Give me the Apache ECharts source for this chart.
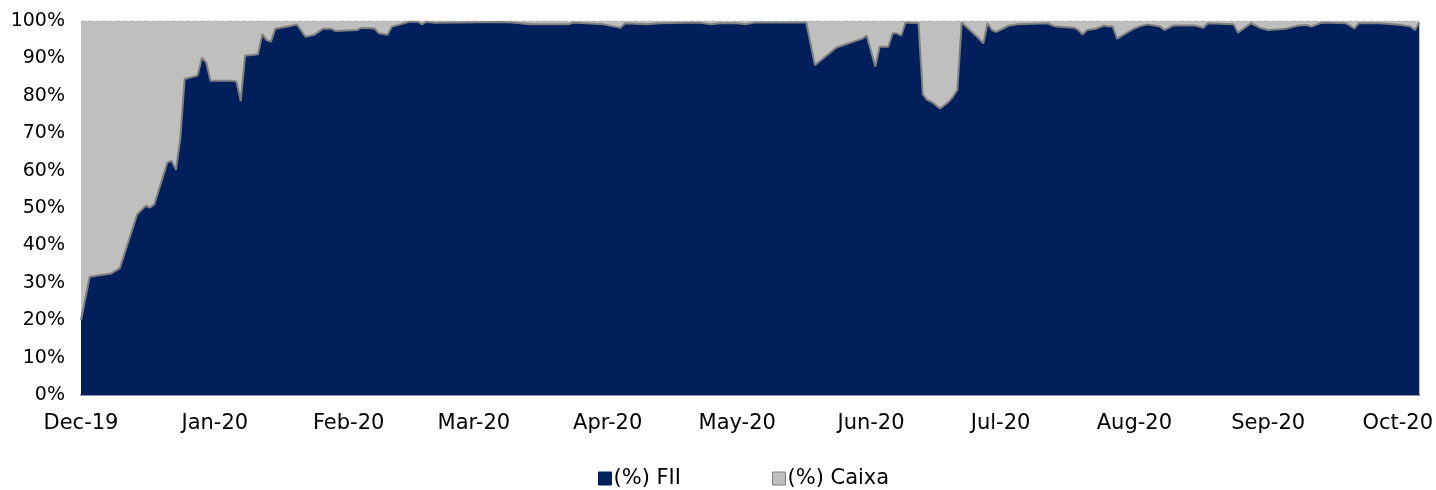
<!DOCTYPE html>
<html>
<head>
<meta charset="utf-8">
<script src="https://cdn.jsdelivr.net/npm/echarts@6/dist/echarts.min.js"></script>
<style>
  html, body { margin: 0; padding: 0; background: #ffffff; }
  #chart { width: 1436px; height: 490px; }
</style>
</head>
<body>
<div id="chart"></div>
<script>
// ---- data ----
const dates = [
  '2019-12-01','2019-12-03','2019-12-08','2019-12-10','2019-12-14','2019-12-16','2019-12-17','2019-12-18','2019-12-21','2019-12-22',
  '2019-12-23','2019-12-24','2019-12-25','2019-12-28','2019-12-29','2019-12-30','2019-12-31','2020-01-05','2020-01-06','2020-01-07',
  '2020-01-08','2020-01-11','2020-01-12','2020-01-13','2020-01-14','2020-01-15','2020-01-19','2020-01-20','2020-01-22','2020-01-24',
  '2020-01-26','2020-01-28','2020-01-29','2020-02-03','2020-02-04','2020-02-07','2020-02-08','2020-02-10','2020-02-11','2020-02-13',
  '2020-02-15','2020-02-17','2020-02-18','2020-02-19','2020-02-21','2020-03-07','2020-03-10','2020-03-14','2020-03-21','2020-03-23',
  '2020-03-24','2020-03-31','2020-04-04','2020-04-05','2020-04-10','2020-04-13','2020-04-22','2020-04-25','2020-04-27','2020-05-01',
  '2020-05-03','2020-05-05','2020-05-17','2020-05-19','2020-05-24','2020-05-29','2020-05-30','2020-05-31','2020-06-02','2020-06-03',
  '2020-06-05','2020-06-06','2020-06-07','2020-06-08','2020-06-09','2020-06-12','2020-06-13','2020-06-14','2020-06-15','2020-06-17',
  '2020-06-19','2020-06-20','2020-06-21','2020-06-22','2020-06-26','2020-06-27','2020-06-28','2020-06-29','2020-06-30','2020-07-03',
  '2020-07-05','2020-07-12','2020-07-13','2020-07-14','2020-07-18','2020-07-19','2020-07-20','2020-07-21','2020-07-23','2020-07-25',
  '2020-07-26','2020-07-27','2020-07-28','2020-07-30','2020-08-01','2020-08-02','2020-08-04','2020-08-07','2020-08-08','2020-08-10',
  '2020-08-15','2020-08-17','2020-08-18','2020-08-24','2020-08-25','2020-08-28','2020-08-30','2020-09-01','2020-09-05','2020-09-08',
  '2020-09-10','2020-09-11','2020-09-13','2020-09-14','2020-09-19','2020-09-21','2020-09-22','2020-09-27','2020-10-02','2020-10-04',
  '2020-10-05','2020-10-06'
];

const fii = [
  20.0, 31.6, 32.5, 33.9, 48.3, 50.6, 50.1, 51.0, 62.2, 62.6,
  60.2, 68.6, 84.5, 85.4, 90.2, 88.9, 84.0, 84.0, 83.8, 78.6,
  90.7, 91.1, 96.5, 94.9, 94.5, 97.9, 98.8, 99.1, 95.8, 96.3,
  97.9, 97.9, 97.3, 97.6, 98.2, 98.0, 96.7, 96.3, 98.5, 99.1,
  99.8, 99.8, 99.1, 99.8, 99.5, 99.7, 99.6, 99.1, 99.1, 99.1,
  99.6, 99.1, 98.2, 99.4, 99.1, 99.4, 99.6, 99.1, 99.4, 99.4,
  99.1, 99.6, 99.6, 88.2, 92.9, 94.9, 95.3, 96.1, 87.8, 93.1,
  93.1, 96.7, 96.7, 96.1, 99.6, 99.4, 80.4, 78.9, 78.4, 76.6,
  78.4, 79.8, 81.6, 99.6, 95.3, 94.0, 99.4, 97.6, 97.1, 98.8,
  99.1, 99.4, 98.8, 98.5, 98.2, 97.6, 96.4, 97.6, 97.9, 98.8,
  98.5, 98.5, 95.3, 96.7, 98.0, 98.5, 99.1, 98.5, 97.6, 98.8,
  98.8, 98.2, 99.4, 99.1, 96.9, 99.4, 98.2, 97.6, 97.9, 98.8,
  98.9, 98.5, 99.4, 99.6, 99.4, 98.0, 99.4, 99.4, 98.9, 98.5,
  97.6, 99.6
];

const caixa = [
  80.0, 68.4, 67.5, 66.1, 51.7, 49.4, 49.9, 49.0, 37.8, 37.4,
  39.8, 31.4, 15.5, 14.6, 9.8, 11.1, 16.0, 16.0, 16.2, 21.4,
  9.3, 8.9, 3.5, 5.1, 5.5, 2.1, 1.2, 0.9, 4.2, 3.7,
  2.1, 2.1, 2.7, 2.4, 1.8, 2.0, 3.3, 3.7, 1.5, 0.9,
  0.2, 0.2, 0.9, 0.2, 0.5, 0.3, 0.4, 0.9, 0.9, 0.9,
  0.4, 0.9, 1.8, 0.6, 0.9, 0.6, 0.4, 0.9, 0.6, 0.6,
  0.9, 0.4, 0.4, 11.8, 7.1, 5.1, 4.7, 3.9, 12.2, 6.9,
  6.9, 3.3, 3.3, 3.9, 0.4, 0.6, 19.6, 21.1, 21.6, 23.4,
  21.6, 20.2, 18.4, 0.4, 4.7, 6.0, 0.6, 2.4, 2.9, 1.2,
  0.9, 0.6, 1.2, 1.5, 1.8, 2.4, 3.6, 2.4, 2.1, 1.2,
  1.5, 1.5, 4.7, 3.3, 2.0, 1.5, 0.9, 1.5, 2.4, 1.2,
  1.2, 1.8, 0.6, 0.9, 3.1, 0.6, 1.8, 2.4, 2.1, 1.2,
  1.1, 1.5, 0.6, 0.4, 0.6, 2.0, 0.6, 0.6, 1.1, 1.5,
  2.4, 0.4
];

const seriesNames = ['(%) FII', '(%) Caixa'];
const monthNames = ['Jan','Feb','Mar','Apr','May','Jun','Jul','Aug','Sep','Oct','Nov','Dec'];
const axisStart = '2019-12-01';
const axisEnd = '2020-10-06';

// ---- helpers ----
function toTime(s) {
  const p = s.split('-').map(Number);
  return new Date(p[0], p[1] - 1, p[2]).getTime();
}
function fmtMonth(v) {
  const d = new Date(v);
  if (d.getDate() !== 1 || d.getHours() !== 0) return '';
  return monthNames[d.getMonth()] + '-' + String(d.getFullYear()).slice(2);
}

const FONT = 'DejaVu Sans, Verdana, sans-serif';
const chart = echarts.init(document.getElementById('chart'), null, { renderer: 'canvas' });

chart.setOption({
  animation: false,
  backgroundColor: '#ffffff',
  grid: { left: 81, right: 12, top: 21, bottom: 95, containLabel: false },
  legend: {
    top: 468,
    left: 598,
    padding: 0,
    itemWidth: 13,
    itemHeight: 13,
    itemGap: 91,
    icon: 'rect',
    textStyle: { fontFamily: FONT, fontSize: 21, color: '#000000', padding: [0, 0, 0, -3] },
    data: [
      { name: seriesNames[0], itemStyle: { color: '#001F5B', borderColor: '#001F5B', borderWidth: 1 } },
      { name: seriesNames[1], itemStyle: { color: '#BFC0BE', borderColor: '#7F7F7F', borderWidth: 1 } }
    ]
  },
  xAxis: {
    type: 'time',
    min: toTime(axisStart),
    max: toTime(axisEnd),
    splitNumber: 10,
    minInterval: 28 * 24 * 3600 * 1000,
    axisLine: { show: true, lineStyle: { color: '#8E99B1', width: 2 } },
    axisTick: { show: false },
    splitLine: { show: false },
    axisLabel: {
      formatter: fmtMonth,
      fontFamily: FONT,
      fontSize: 21,
      color: '#000000',
      fontWeight: 'normal',
      margin: 18,
      hideOverlap: false,
      showMinLabel: true,
      showMaxLabel: false
    }
  },
  yAxis: {
    type: 'value',
    min: 0,
    max: 100,
    interval: 10,
    axisLine: { show: false },
    axisTick: { show: false },
    splitLine: { show: false },
    axisLabel: {
      formatter: '{value}%',
      fontFamily: FONT,
      fontSize: 19,
      color: '#000000',
      margin: 16
    }
  },
  series: [
    {
      name: seriesNames[0],
      type: 'line',
      stack: 'total',
      z: 3,
      symbol: 'none',
      data: dates.map((d, i) => [toTime(d), fii[i]]),
      lineStyle: { color: '#808080', width: 2 },
      areaStyle: { color: '#001F5B', opacity: 1 },
      itemStyle: { color: '#001F5B' }
    },
    {
      name: seriesNames[1],
      type: 'line',
      stack: 'total',
      z: 2,
      symbol: 'none',
      data: dates.map((d, i) => [toTime(d), caixa[i]]),
      lineStyle: { color: '#A6A6A6', width: 1, type: [4, 3] },
      areaStyle: { color: '#BFC0BE', opacity: 1 },
      itemStyle: { color: '#BFC0BE' }
    }
  ]
});
</script>
</body>
</html>
